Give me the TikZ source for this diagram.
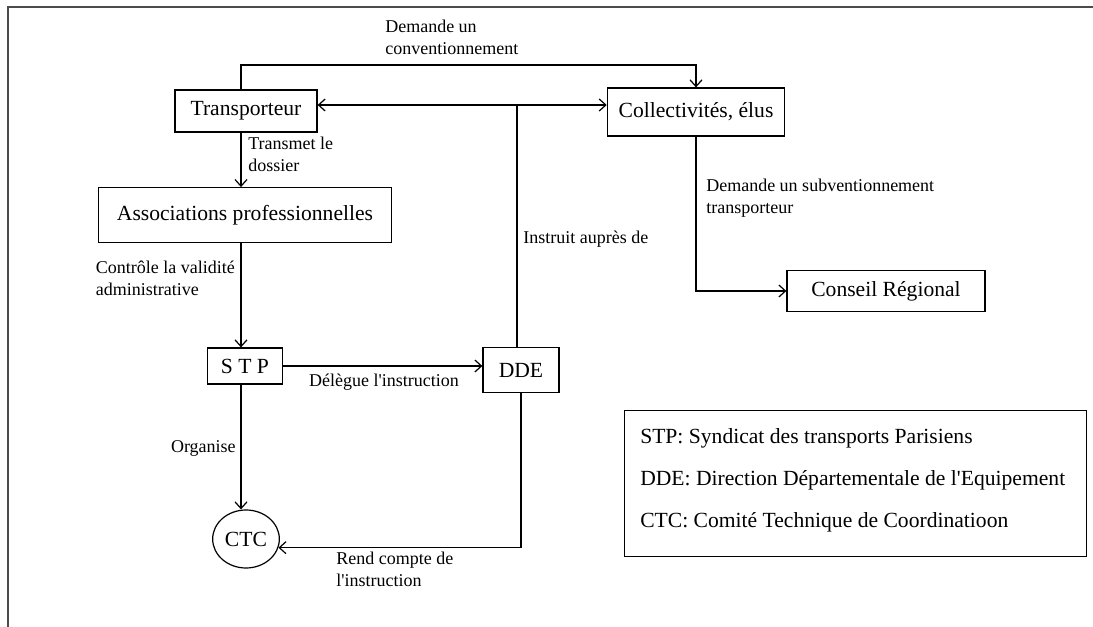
\documentclass[tikz,border=0pt]{standalone}
\usepackage{fontspec}
\setmainfont{Liberation Serif}
\usetikzlibrary{positioning, shapes.geometric, arrows.meta}

\begin{document}
\begin{tikzpicture}[x=0.75pt, y=-0.75pt,
    box/.style={draw, line width=0.9pt, inner sep=0pt, font=\fontsize{16.2}{18}\selectfont},
    lbl/.style={inner sep=0pt, align=left, font=\fontsize{13.5}{16.5}\selectfont},
    conn/.style={line width=0.9pt, -{Straight Barb[length=5pt,width=9pt]}},
    link/.style={line width=0.9pt},
]
    \useasboundingbox (0,0) rectangle (1093,627);

    % frame
    \draw[gray!60!black, line width=1.6pt] (1093,7) -- (8,7) -- (8,627);

    % boxes
    \node[box, minimum width=106.5pt, minimum height=31.5pt] (trans) at (246,111) {Transporteur};
    \node[box, minimum width=133pt, minimum height=36pt] (coll) at (696,112) {Collectivités, élus};
    \node[box, minimum width=220pt, minimum height=41pt] (assoc) at (245,215) {Associations professionnelles};
    \node[box, minimum width=56pt, minimum height=27pt] (stp) at (245,366) {S T P};
    \node[box, minimum width=57pt, minimum height=34pt] (dde) at (521,370) {DDE};
    \node[box, ellipse, minimum width=50pt, minimum height=43.5pt] (ctc) at (246,539) {CTC};
    \node[box, minimum width=148.5pt, minimum height=31pt] (cons) at (886,291) {Conseil Régional};

    % legend
    \node[box, minimum width=346pt, minimum height=110pt] (legend) at (855.5,483.5) {};
    \node[inner sep=0pt, anchor=west, align=left, font=\fontsize{16.2}{31.5}\selectfont] (legtext) at (640,480)
        {STP: Syndicat des transports Parisiens\\
         DDE: Direction Départementale de l\textquotesingle Equipement\\
         CTC: Comité Technique de Coordinatioon};

    % connectors
    \coordinate (col) at (241,0);
    \coordinate (convtop) at (241,65);
    \coordinate (hub) at (517,105);
    \draw[conn] (trans.north -| convtop) -- (convtop) -| (coll.north);
    \draw[conn, {Straight Barb[length=5pt,width=9pt]}-{Straight Barb[length=5pt,width=9pt]}]
        (trans.east |- hub) -- (coll.west |- hub);
    \draw[link] (dde.north -| hub) -- (hub);
    \draw[conn] (trans.south -| col) -- (assoc.north -| col);
    \draw[conn] (assoc.south -| col) -- (stp.north -| col);
    \draw[conn] (stp.east) -- (stp.east -| dde.west);
    \draw[conn] (stp.south -| col) -- (ctc.north -| col);
    \draw[conn] (dde.south) |- (ctc.-15);
    \draw[conn] (coll.south) |- (cons.west);

    % labels
    \node[lbl, anchor=north west] (lconv) at (385,20) {Demande un\\conventionnement};
    \node[lbl, anchor=north west] (ltrans) at (248,137) {Transmet le\\dossier};
    \node[lbl, anchor=north east] (lctrl) at (235,261) {Contrôle la validité\\administrative};
    \node[lbl, anchor=north west] (linstr) at (523,231) {Instruit auprès de};
    \node[lbl, anchor=north] (ldeleg) at (384,374) {Délègue l\textquotesingle instruction};
    \node[lbl, anchor=east] (lorg) at (236,448) {Organise};
    \node[lbl, anchor=north west] (lrend) at (336,552) {Rend compte de\\l\textquotesingle instruction};
    \node[lbl, anchor=north west] (lsubv) at (706,179) {Demande un subventionnement\\transporteur};

\end{tikzpicture}
\end{document}
